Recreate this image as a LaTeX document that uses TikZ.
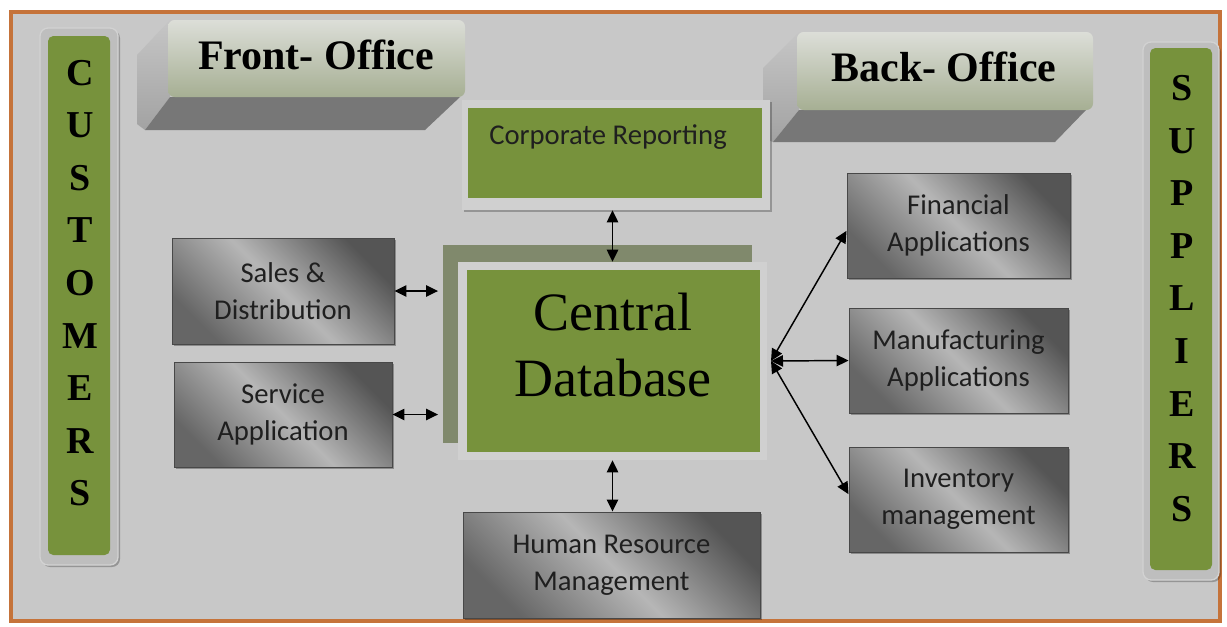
\documentclass[tikz,border=0pt]{standalone}
\usepackage{fontspec}
\setmainfont{Liberation Serif}
\newfontfamily\boxfont{Carlito}
\usetikzlibrary{arrows.meta,shadows}
\definecolor{bggray}{HTML}{C8C8C8}
\definecolor{frameor}{HTML}{C5733A}
\definecolor{olive}{HTML}{77923C}
\definecolor{oliveback}{HTML}{80896C}
\definecolor{rimgray}{HTML}{D0D0D0}
\definecolor{tabtop}{HTML}{DCDED8}
\definecolor{tabbot}{HTML}{A6AF93}
\definecolor{tabsidetop}{HTML}{C6C6C6}
\definecolor{tabsidebot}{HTML}{A2A2A2}
\definecolor{tabdark}{HTML}{777777}
\definecolor{boxdark}{HTML}{555555}
\definecolor{boxlight}{HTML}{B6B6B6}
\definecolor{barrim}{HTML}{BEBEBE}
\begin{document}
\begin{tikzpicture}[x=0.75pt,y=-0.75pt,
  gbox/.style={draw=boxdark!85!black, line width=0.7pt, top color=boxdark, bottom color=boxdark!90!white,
    middle color=boxlight, shading angle=-45, font=\boxfont\fontsize{21.5}{27.75}\selectfont,
    align=center, text=black!88, inner sep=0pt,
    drop shadow={shadow xshift=1.5pt, shadow yshift=-1.5pt, fill=black, opacity=0.3}},
  rim/.style={fill=rimgray, inner sep=0pt},
  greenbox/.style={fill=olive, inner sep=0pt},
  barout/.style={fill=barrim, draw=gray!35, line width=1pt, rounded corners=6pt, inner sep=0pt,
    drop shadow={shadow xshift=1.5pt, shadow yshift=-1.5pt, fill=black, opacity=0.25}},
  bargreen/.style={fill=olive, rounded corners=4pt, inner sep=0pt},
  barletters/.style={font=\bfseries\fontsize{28.5}{39.45}\selectfont, align=center, inner sep=0pt},
  tabtext/.style={font=\bfseries\fontsize{31.5}{36}\selectfont, inner sep=0pt},
  dbl/.style={{Triangle[length=9pt,width=8.5pt]}-{Triangle[length=9pt,width=8.5pt]}, line width=1.1pt, black}
]
\useasboundingbox (0,0) rectangle (1227,626);
\fill[white] (0,0) rectangle (1227,626);
\fill[bggray] (11,12) rectangle (1220,621);
\draw[frameor, line width=2.5pt] (11,12) rectangle (1220,621);

% Customers bar
\node[barout, minimum width=58.5pt, minimum height=402.75pt] (custout) at (79,296.5) {};
\node[bargreen, minimum width=46.5pt, minimum height=389.25pt] (custin) at (79,295.5) {};
\node[barletters] (custtext) at (80,283) {C\\U\\S\\T\\O\\M\\E\\R\\S};

% Suppliers bar
\node[barout, minimum width=57pt, minimum height=403.5pt] (supout) at (1181,311) {};
\node[bargreen, minimum width=46.5pt, minimum height=391.5pt] (supin) at (1181,309) {};
\node[barletters] (suptext) at (1182,298.5) {S\\U\\P\\P\\L\\I\\E\\R\\S};

% Front-Office tab
\shade[top color=tabsidetop, bottom color=tabsidebot] (170,20) -- (137,55) -- (137,124) -- (145,130) -- (170,97) -- cycle;
\fill[tabdark] (170,97) -- (460,97) -- (425,130) -- (145,130) -- cycle;
\shade[top color=tabtop, bottom color=tabbot, rounded corners=5pt] (168,20) rectangle (465,97);
\node[tabtext] (front) at (316,55) {Front- Office};

% Back-Office tab
\shade[top color=tabsidetop, bottom color=tabsidebot] (799,32) -- (763,68) -- (763,138) -- (773,142) -- (799,110) -- cycle;
\fill[tabdark] (799,110) -- (1086,110) -- (1055,142) -- (773,142) -- cycle;
\shade[top color=tabtop, bottom color=tabbot, rounded corners=5pt] (797,32) rectangle (1093,110);
\node[tabtext] (back) at (944,67) {Back- Office};

% Corporate Reporting
\node[rim, minimum width=231pt, minimum height=82.5pt,
  drop shadow={shadow xshift=1.5pt, shadow yshift=-1.5pt, fill=black, opacity=0.25}] (corp) at (616,155) {};
\node[greenbox, minimum width=220.5pt, minimum height=67.5pt] (corpin) at (615,153) {};
\node[font=\boxfont\fontsize{21.5}{26}\selectfont, text=black!88, inner sep=0pt] (corptext) at (608,137) {Corporate Reporting};

% Central Database
\node[fill=oliveback, inner sep=0pt, minimum width=231.75pt, minimum height=148.5pt] (cdbback) at (597.5,344) {};
\node[rim, minimum width=231.75pt, minimum height=148.5pt] (cdb) at (612.5,361) {};
\node[greenbox, minimum width=219.75pt, minimum height=136.5pt] (cdbin) at (613.5,361) {};
\node[font=\fontsize{40.5}{49.5}\selectfont, align=center, inner sep=0pt] (cdbtext) at (613,345) {Central\\Database};

% Gray boxes
\node[gbox, minimum width=166.5pt, minimum height=79.5pt] (sales) at (283,291) {Sales \&\\Distribution};
\node[gbox, minimum width=163.5pt, minimum height=78.75pt] (service) at (283,414.5) {Service\\Application};
\node[gbox, minimum width=167.25pt, minimum height=78.75pt] (fin) at (958.5,225.5) {Financial\\Applications};
\node[gbox, minimum width=164.25pt, minimum height=78.75pt] (manu) at (958.5,360.5) {Manufacturing\\Applications};
\node[gbox, minimum width=164.25pt, minimum height=78.75pt] (inv) at (958.5,499.5) {Inventory\\management};
\node[gbox, minimum width=222.75pt, minimum height=79.5pt] (hr) at (611.5,565) {Human Resource\\Management};

% Connectors
\draw[dbl] (cdb.north |- corp.south) -- (cdb.north);
\draw[dbl] (cdb.south) -- (cdb.south |- hr.north);
\draw[dbl, shorten >=3.5pt] (sales.east) -- (sales.east -| cdbback.west);
\draw[dbl, shorten >=3.5pt] (service.east) -- (service.east -| cdbback.west);
\coordinate (hub) at (771,361);
\draw[dbl] (hub) -- ([yshift=-4pt]fin.west);
\draw[dbl] (hub) -- (manu.west);
\draw[dbl] (hub) -- ([yshift=4pt]inv.west);
\end{tikzpicture}
\end{document}
